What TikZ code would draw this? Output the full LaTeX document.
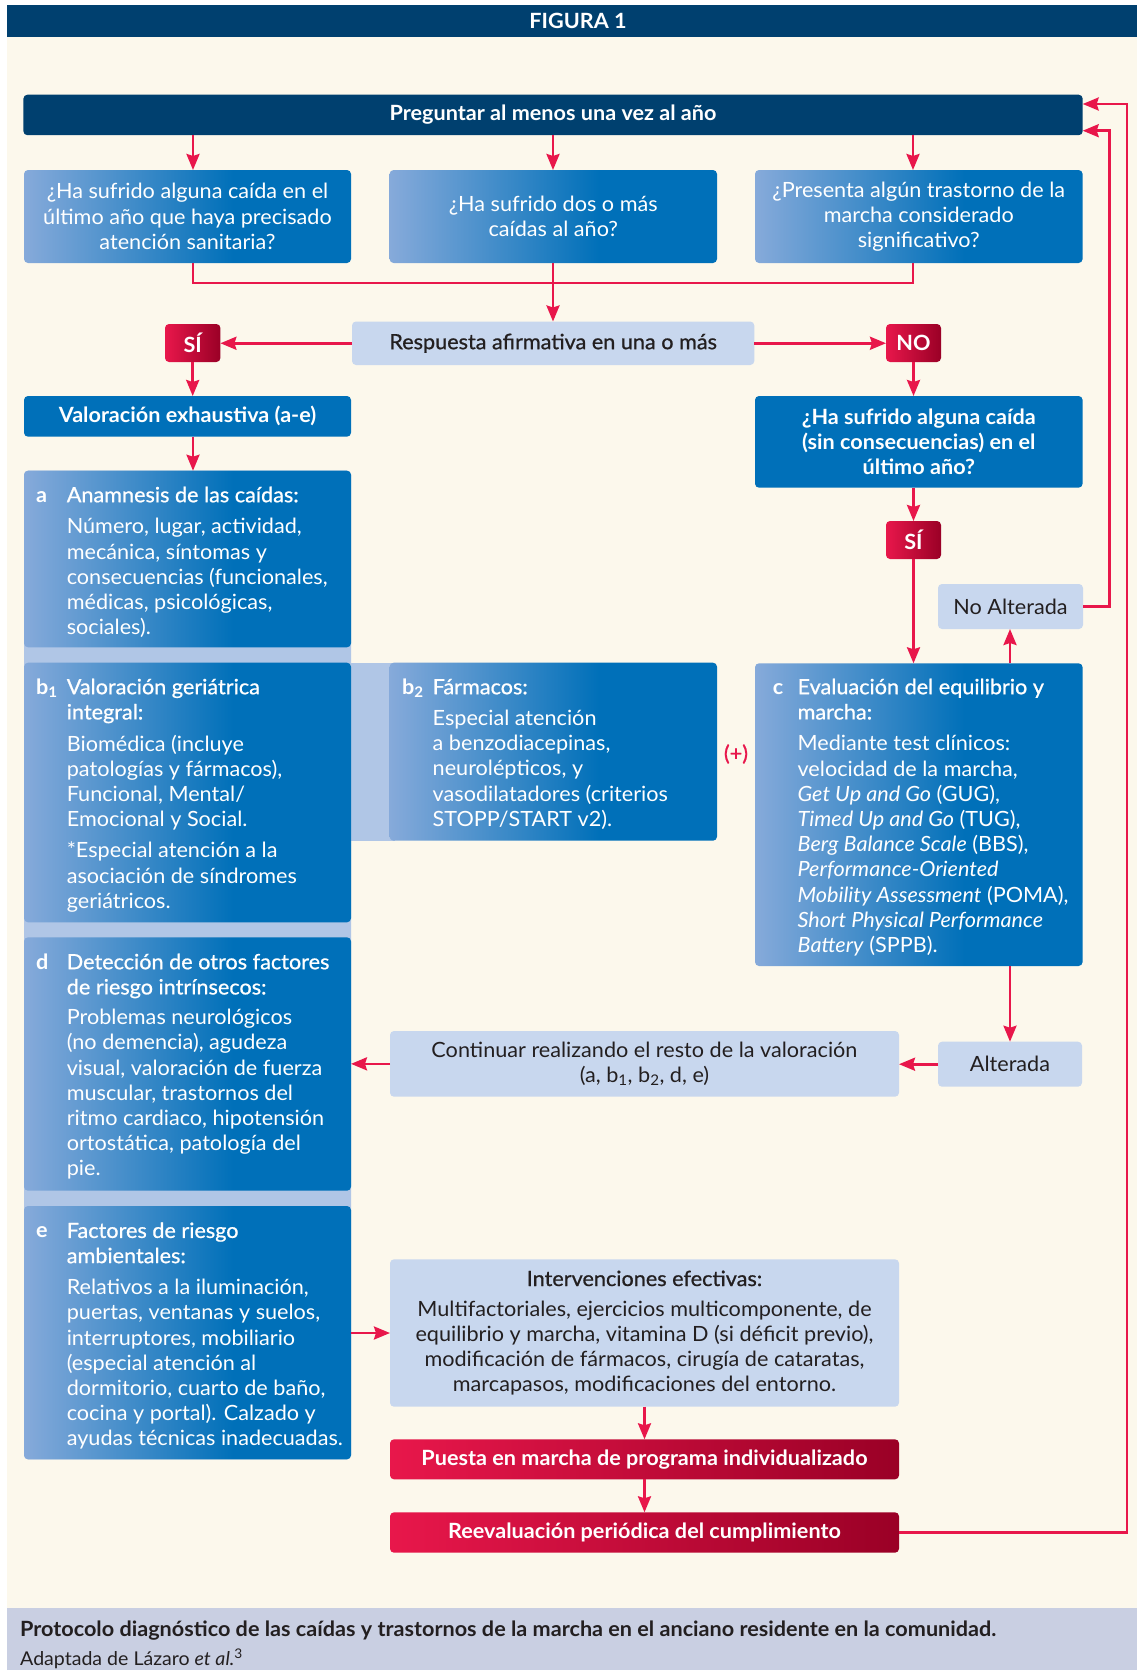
\documentclass[tikz,border=0pt]{standalone}
\usepackage{fontspec}
\setmainfont{Lato}[FakeStretch=1.03]
\newfontfamily\medf{Lato}[FakeStretch=1.03,FakeBold=0.8]
\usetikzlibrary{arrows.meta}
\definecolor{navy}{HTML}{00406F}
\definecolor{blueM}{HTML}{0070B9}
\definecolor{gradL}{HTML}{86AADA}
\definecolor{lightb}{HTML}{C8D7EE}
\definecolor{bandc}{HTML}{B0C6E6}
\definecolor{cream}{HTML}{FCF8EC}
\definecolor{redL}{HTML}{E8174B}
\definecolor{redR}{HTML}{9A0026}
\definecolor{arrred}{HTML}{E8174B}
\definecolor{capband}{HTML}{C9CFE2}
\definecolor{darktext}{HTML}{231F20}
\pgfdeclarehorizontalshading{bluegrad}{100bp}{color(0bp)=(gradL); color(25bp)=(gradL); color(57bp)=(blueM); color(100bp)=(blueM)}
\pgfdeclarehorizontalshading{redgrad}{100bp}{color(0bp)=(redL); color(25bp)=(redL); color(75bp)=(redR); color(100bp)=(redR)}
\newcommand\myfs{\fontsize{21pt}{25.2pt}\selectfont}
\newcommand\fl{\rule{0pt}{17pt}}
\begin{document}
\begin{tikzpicture}[x=1pt,y=-1pt,
  base/.style={inner sep=0pt, outer sep=0pt, anchor=north west, rounded corners=4pt, align=center, font=\myfs},
  gbox/.style={base, shade, shading=bluegrad, text=white},
  bbox/.style={base, fill=blueM, text=white},
  nbox/.style={base, fill=navy, text=white},
  lbox/.style={base, fill=lightb, text=darktext},
  rbox/.style={base, shade, shading=redgrad, text=white, font=\myfs\bfseries},
  sz/.style 2 args={minimum width=#1pt, minimum height=#2pt},
  lbl/.style={anchor=base west, inner sep=0pt, text=white, font=\myfs\bfseries},
  txt/.style={anchor=north west, inner sep=0pt, text=white, align=left, font=\myfs},
  arr/.style={draw=arrred, line width=2.6pt, -{Stealth[length=16pt,width=13pt,inset=2pt]}},
  ln/.style={draw=arrred, line width=2.6pt}
]
\useasboundingbox (0,0) rectangle (1137,1670);
\fill[white] (0,0) rectangle (1137,1670);
\fill[cream] (7,37) rectangle (1137,1608);
\fill[navy] (7,5) rectangle (1137,37);
\fill[capband] (7,1608) rectangle (1137,1670);
\node[text=white, font=\myfs\bfseries] (fig) at (578,21) {FIGURA 1};

% guide coordinates
\coordinate (xL) at (193,0);
\coordinate (xM) at (553,0);
\coordinate (xR) at (913,0);
\coordinate (xA) at (1010,0);
\coordinate (jn) at (553,283);
\coordinate (rr1) at (1109.5,130.7);
\coordinate (rr2) at (1126.8,104);

% top
\node[nbox, sz={1059.3}{40.5}, font=\myfs\bfseries] (top) at (23.4,94.7) {Preguntar al menos una vez al año};
\node[gbox, sz={327}{93}] (q1) at (24,170) {¿Ha sufrido alguna caída en el\\ último año que haya precisado\\ atención sanitaria?};
\node[gbox, sz={327.4}{93}] (q2) at (389.6,170) {¿Ha sufrido dos o más\\ caídas al año?};
\node[gbox, sz={327.6}{93}] (q3) at (755,170) {¿Presenta algún trastorno de la\\ marcha considerado\\ significativo?};

\node[lbox, sz={402.3}{43.5}] (resp) at (352,321.5) {\medf Respuesta afirmativa en una o más};
\node[rbox, sz={55.4}{38}] (si1) at (165,324) {SÍ};
\node[rbox, sz={55}{38}] (no) at (886,324) {NO};
\node[bbox, sz={327}{40.7}, font=\myfs\bfseries] (valor) at (24,396) {Valoración exhaustiva (a-e)};
\node[bbox, sz={327.6}{91.7}, font=\myfs\bfseries] (q4) at (755,396) {¿Ha sufrido alguna caída\\ (sin consecuencias) en el\\ último año?};
\node[rbox, sz={55}{38}] (si2) at (886,521) {SÍ};
\node[lbox, sz={145}{45}] (noalt) at (938,584) {No Alterada};

% band behind left column
\fill[bandc, rounded corners=4pt] (24,470.7) rectangle (351,1459.3);
\fill[bandc] (345,662.7) rectangle (395,840.7);

% a
\node[gbox, sz={327}{176.6}] (a) at (24,470.7) {};
\node[lbl] (alab) at (36,502) {a};
\node[txt] (atx) at (66.6,485) {\fl{\medf Anamnesis de las caídas:}\\[6.5pt] Número, lugar, actividad,\\ mecánica, síntomas y\\ consecuencias (funcionales,\\ médicas, psicológicas,\\ sociales).};
% b1
\node[gbox, sz={327}{259.6}] (b1) at (24,662.7) {};
\node[lbl] (b1lab) at (36,694) {b\textsubscript{1}};
\node[txt] (b1tx) at (66.6,677) {\fl{\medf Valoración geriátrica}\\ {\medf integral:}\\[6.5pt] Biomédica (incluye\\ patologías y fármacos),\\ Funcional, Mental/\\ Emocional y Social.\\[6pt] *Especial atención a la\\ asociación de síndromes\\ geriátricos.};
% b2
\node[gbox, sz={327.4}{178}] (b2) at (389.6,662.7) {};
\node[lbl] (b2lab) at (401.8,694) {b\textsubscript{2}};
\node[txt] (b2tx) at (432.5,677) {\fl{\medf Fármacos:}\\[6pt] Especial atención\\ a benzodiacepinas,\\ neurolépticos, y\\ vasodilatadores (criterios\\ STOPP/START v2).};
\node[text=arrred, font=\myfs\medf, inner sep=0pt] (plus) at (736,754) {(+)};
% c
\node[gbox, sz={327.6}{302.7}] (c) at (755,663.3) {};
\node[lbl] (clab) at (772.7,694) {c};
\node[txt] (ctx) at (797.4,677) {\fl{\medf Evaluación del equilibrio y}\\ {\medf marcha:}\\[6.3pt] Mediante test clínicos:\\ velocidad de la marcha,\\ \textit{Get Up and Go} (GUG),\\ \textit{Timed Up and Go} (TUG),\\ \textit{Berg Balance Scale} (BBS),\\ \textit{Performance-Oriented}\\ \textit{Mobility Assessment} (POMA),\\ \textit{Short Physical Performance}\\ \textit{Battery} (SPPB).};
% d
\node[gbox, sz={327}{253.4}] (d) at (24,937.3) {};
\node[lbl] (dlab) at (36,969) {d};
\node[txt] (dtx) at (66.6,952) {\fl{\medf Detección de otros factores}\\ {\medf de riesgo intrínsecos:}\\[5pt] Problemas neurológicos\\ (no demencia), agudeza\\ visual, valoración de fuerza\\ muscular, trastornos del\\ ritmo cardiaco, hipotensión\\ ortostática, patología del\\ pie.};
% e
\node[gbox, sz={327}{253.3}] (e) at (24,1206) {};
\node[lbl] (elab) at (36,1237.7) {e};
\node[txt] (etx) at (66.6,1220.7) {\fl{\medf Factores de riesgo}\\ {\medf ambientales:}\\[6.3pt] Relativos a la iluminación,\\ puertas, ventanas y suelos,\\ interruptores, mobiliario\\ (especial atención al\\ dormitorio, cuarto de baño,\\ cocina y portal). Calzado y\\ ayudas técnicas inadecuadas.};

\node[lbox, sz={144}{45}] (alt) at (938,1041.7) {Alterada};
\node[lbox, sz={509}{65.7}] (cont) at (390,1031) {Continuar realizando el resto de la valoración\\ (a, b\textsubscript{1}, b\textsubscript{2}, d, e)};
\node[lbox, sz={509}{147.4}] (interv) at (390,1259.3) {{\medf Intervenciones efectivas:}\\[5pt] Multifactoriales, ejercicios multicomponente, de\\ equilibrio y marcha, vitamina D (si déficit previo),\\ modificación de fármacos, cirugía de cataratas,\\ marcapasos, modificaciones del entorno.};
\node[rbox, sz={509}{40}] (puesta) at (390,1439.3) {Puesta en marcha de programa individualizado};
\node[rbox, sz={509}{40.4}] (reeval) at (390,1512.3) {Reevaluación periódica del cumplimiento};

% caption
\node[anchor=base west, inner sep=0pt, text=darktext, font=\fontsize{21pt}{24pt}\selectfont\bfseries] (cap1) at (20,1636.5) {Protocolo diagnóstico de las caídas y trastornos de la marcha en el anciano residente en la comunidad.};
\node[anchor=base west, inner sep=0pt, text=darktext, font=\fontsize{19pt}{22pt}\selectfont] (cap2) at (20,1665) {Adaptada de Lázaro \textit{et al.}\textsuperscript{3}};

% connectors
\draw[arr] (top.south -| xL) -- (q1.north -| xL);
\draw[arr] (top.south -| xM) -- (q2.north -| xM);
\draw[arr] (top.south -| xR) -- (q3.north -| xR);
\draw[ln] (q1.south -| xL) |- (jn) -| (q3.south -| xR);
\draw[arr] (q2.south -| xM) -- (resp.north -| xM);
\draw[arr] (resp.west) -- (resp.west -| si1.east);
\draw[arr] (resp.east) -- (resp.east -| no.west);
\draw[arr] (si1.south) -- (valor.north -| si1.south);
\draw[arr] (valor.south -| xL) -- (a.north -| xL);
\draw[arr] (no.south) -- (q4.north -| no.south);
\draw[arr] (q4.south -| si2.north) -- (si2.north);
\draw[arr] (si2.south) -- (c.north -| si2.south);
\draw[arr] (c.north -| xA) -- (noalt.south -| xA);
\draw[arr] (noalt.east) -| (rr1) -- (rr1 -| top.east);
\draw[arr] (reeval.east) -| (rr2) -- (rr2 -| top.east);
\draw[arr] (c.south -| xA) -- (alt.north -| xA);
\draw[arr] (alt.west) -- (alt.west -| cont.east);
\draw[arr] (cont.west) -- (cont.west -| d.east);
\draw[arr] (interv.west -| e.east) -- (interv.west);
\draw[arr] (interv.south) -- (puesta.north);
\draw[arr] (puesta.south) -- (reeval.north);
\end{tikzpicture}
\end{document}
